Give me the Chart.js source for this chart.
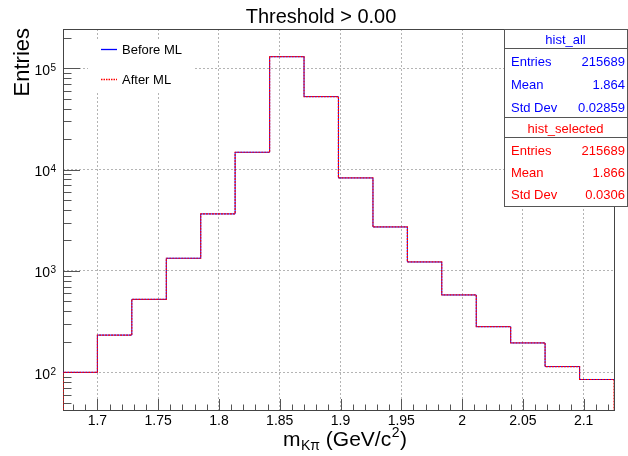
<!DOCTYPE html>
<html>
<head>
<meta charset="utf-8">
<script src="https://cdn.jsdelivr.net/npm/chart.js@4/dist/chart.umd.min.js"></script>
<style>
  html, body { margin: 0; padding: 0; background: #ffffff; }
  #wrap { position: relative; width: 628px; height: 456px; }
</style>
</head>
<body>
<div id="wrap"><canvas id="c" width="628" height="456"></canvas></div>
<script>
// Invariant mass histogram, 16 bins (GeV/c^2)
const binEdges = [1.6717, 1.7000, 1.7283, 1.7567, 1.7850, 1.8133, 1.8417, 1.8700,
                  1.8983, 1.9267, 1.9550, 1.9833, 2.0117, 2.0400, 2.0683, 2.0967, 2.1250];
const countsBefore = [100, 233, 525, 1335, 3656, 14830, 130000, 52500,
                      8280, 2718, 1227, 580, 282, 195, 114, 85];
const countsAfter  = [100, 233, 525, 1335, 3656, 14830, 130000, 52500,
                      8280, 2718, 1227, 580, 282, 195, 114, 85];

// Axis ranges and labelled ticks
const xRange = [1.6717, 2.1250];
const yRange = [42.5, 244000];
const xTickValues = [1.7, 1.75, 1.8, 1.85, 1.9, 1.95, 2.0, 2.05, 2.1];
const xTickLabels = ['1.7', '1.75', '1.8', '1.85', '1.9', '1.95', '2', '2.05', '2.1'];
const yTickValues = [100, 1000, 10000, 100000];
const yTickExponents = ['2', '3', '4', '5'];

// Text content
const chartTitle = 'Threshold > 0.00';
const legendLabels = ['Before ML', 'After ML'];
const statRowNames = ['Entries', 'Mean', 'Std Dev'];
const statsAll = { name: 'hist_all', values: ['215689', '1.864', '0.02859'] };
const statsSelected = { name: 'hist_selected', values: ['215689', '1.866', '0.0306'] };

const BLUE = '#0000ff';
const RED = '#ff0000';
const FONT = '"Liberation Sans", Arial, Helvetica, sans-serif';

// Step outline of a histogram: one point at each bin's low edge, plus the closing edge
function stepPoints(edges, counts) {
  const pts = counts.map((c, i) => ({ x: edges[i], y: c }));
  pts.push({ x: edges[edges.length - 1], y: counts[counts.length - 1] });
  return pts;
}
// Same outline, closed down to the axis floor at both ends
function closedStepPoints(edges, counts, floor) {
  const pts = stepPoints(edges, counts);
  pts.unshift({ x: edges[0], y: floor });
  pts.push({ x: edges[edges.length - 1], y: floor });
  return pts;
}

const decorations = {
  id: 'decorations',
  beforeDatasetsDraw(chart) {
    const ctx = chart.ctx;
    const a = chart.chartArea;
    const xs = chart.scales.x, ys = chart.scales.y;
    ctx.save();
    ctx.strokeStyle = '#555555';
    ctx.lineWidth = 1;
    // x ticks (minor every 0.01, major at labels)
    ctx.beginPath();
    for (let k = 168; k <= 212; k++) {
      const v = k / 100;
      const px = Math.round(xs.getPixelForValue(v)) + 0.5;
      const major = (k % 5 === 0);
      ctx.moveTo(px, a.bottom);
      ctx.lineTo(px, a.bottom - (major ? 11 : 5.5));
    }
    // y ticks (minor 2..9 per decade)
    for (let d = 1; d <= 5; d++) {
      for (let m = 1; m <= 9; m++) {
        const v = m * Math.pow(10, d);
        if (v < yRange[0] || v > yRange[1]) continue;
        const py = Math.round(ys.getPixelForValue(v)) + 0.5;
        ctx.moveTo(a.left, py);
        ctx.lineTo(a.left + (m === 1 ? 17 : 8.5), py);
      }
    }
    ctx.stroke();
    // frame
    ctx.strokeStyle = '#444444';
    ctx.strokeRect(Math.round(a.left) + 0.5, Math.round(a.top) + 0.5,
                   Math.round(a.right - a.left), Math.round(a.bottom - a.top));
    ctx.restore();
  },
  afterDraw(chart) {
    const ctx = chart.ctx;
    const xs = chart.scales.x, ys = chart.scales.y;
    ctx.save();
    ctx.fillStyle = '#000000';

    // title
    ctx.font = '20px ' + FONT;
    ctx.textAlign = 'center';
    ctx.textBaseline = 'alphabetic';
    ctx.fillText(chartTitle, 321, 23);

    // x tick labels
    ctx.font = '14px ' + FONT;
    xTickValues.forEach((v, i) => {
      ctx.fillText(xTickLabels[i], xs.getPixelForValue(v), 425);
    });

    // y tick labels: 10^n
    yTickValues.forEach((v, i) => {
      const py = ys.getPixelForValue(v);
      ctx.textAlign = 'right';
      ctx.font = '14px ' + FONT;
      ctx.fillText('10', 50, py + 6.5);
      ctx.textAlign = 'left';
      ctx.font = '10px ' + FONT;
      ctx.fillText(yTickExponents[i], 50.5, py + 2.5);
    });

    // x axis title: m_{Kπ} (GeV/c^2)
    let x = 283;
    const base = 446;
    ctx.textAlign = 'left';
    ctx.font = '21px ' + FONT;
    ctx.fillText('m', x, base); x += ctx.measureText('m').width + 0.5;
    ctx.font = '14px ' + FONT;
    ctx.fillText('Kπ', x, base + 4); x += ctx.measureText('Kπ').width;
    ctx.font = '21px ' + FONT;
    ctx.fillText(' (GeV/c', x, base); x += ctx.measureText(' (GeV/c').width + 0.5;
    ctx.font = '14px ' + FONT;
    ctx.fillText('2', x, base - 9); x += ctx.measureText('2').width + 0.5;
    ctx.font = '21px ' + FONT;
    ctx.fillText(')', x, base);

    // y axis title
    ctx.save();
    ctx.translate(29, 28);
    ctx.rotate(-Math.PI / 2);
    ctx.textAlign = 'right';
    ctx.font = '22px ' + FONT;
    ctx.fillText('Entries', 0, 0);
    ctx.restore();

    // legend
    ctx.fillStyle = '#ffffff';
    ctx.fillRect(88, 40, 105, 53);
    ctx.lineWidth = 1.3;
    ctx.strokeStyle = BLUE;
    ctx.beginPath(); ctx.moveTo(101, 49.5); ctx.lineTo(117, 49.5); ctx.stroke();
    ctx.strokeStyle = RED;
    ctx.setLineDash([1.5, 1]);
    ctx.beginPath(); ctx.moveTo(101, 79.5); ctx.lineTo(117, 79.5); ctx.stroke();
    ctx.setLineDash([]);
    ctx.fillStyle = '#000000';
    ctx.font = '13px ' + FONT;
    ctx.textAlign = 'left';
    ctx.fillText(legendLabels[0], 122, 54);
    ctx.fillText(legendLabels[1], 122, 84);

    // statistics boxes
    function statBox(stats, color, top, bottom, sepY, titleBase, rowBases) {
      const L = 504, R = 627;
      ctx.fillStyle = '#ffffff';
      ctx.fillRect(L, top, R - L, bottom - top);
      ctx.strokeStyle = '#555555';
      ctx.lineWidth = 1;
      ctx.strokeRect(L + 0.5, top + 0.5, R - L, bottom - top);
      ctx.beginPath(); ctx.moveTo(L, sepY + 0.5); ctx.lineTo(R + 1, sepY + 0.5); ctx.stroke();
      ctx.fillStyle = color;
      ctx.font = '13px ' + FONT;
      ctx.textAlign = 'center';
      ctx.fillText(stats.name, (L + R) / 2, titleBase);
      statRowNames.forEach((n, i) => {
        ctx.textAlign = 'left';
        ctx.fillText(n, 511, rowBases[i]);
        ctx.textAlign = 'right';
        ctx.fillText(stats.values[i], 625, rowBases[i]);
      });
    }
    statBox(statsAll, BLUE, 29, 117, 48, 44, [66, 89, 112]);
    statBox(statsSelected, RED, 117, 206, 137, 133, [155, 177, 199]);

    ctx.restore();
  }
};

new Chart(document.getElementById('c'), {
  type: 'line',
  data: {
    datasets: [
      {
        label: legendLabels[1],
        data: closedStepPoints(binEdges, countsAfter, yRange[0]),
        borderColor: RED,
        borderWidth: 1.2,
        borderDash: [2, 1],
        stepped: 'before',
        pointRadius: 0,
        fill: false
      },
      {
        label: legendLabels[0],
        data: stepPoints(binEdges, countsBefore),
        borderColor: BLUE,
        borderWidth: 1,
        stepped: 'before',
        pointRadius: 0,
        fill: false
      }
    ]
  },
  options: {
    responsive: false,
    animation: false,
    events: [],
    layout: { padding: { left: 63, right: 14, top: 29, bottom: 46 } },
    plugins: { legend: { display: false }, tooltip: { enabled: false }, title: { display: false } },
    scales: {
      x: {
        type: 'linear',
        min: xRange[0],
        max: xRange[1],
        afterBuildTicks: s => { s.ticks = xTickValues.map(v => ({ value: v })); },
        ticks: { display: false },
        grid: { color: '#b4b4b4', lineWidth: 1, drawTicks: false },
        border: { display: false, dash: [2, 2] }
      },
      y: {
        type: 'logarithmic',
        min: yRange[0],
        max: yRange[1],
        afterBuildTicks: s => { s.ticks = yTickValues.map(v => ({ value: v })); },
        ticks: { display: false },
        grid: { color: '#b4b4b4', lineWidth: 1, drawTicks: false },
        border: { display: false, dash: [2, 2] }
      }
    }
  },
  plugins: [decorations]
});
</script>
</body>
</html>
